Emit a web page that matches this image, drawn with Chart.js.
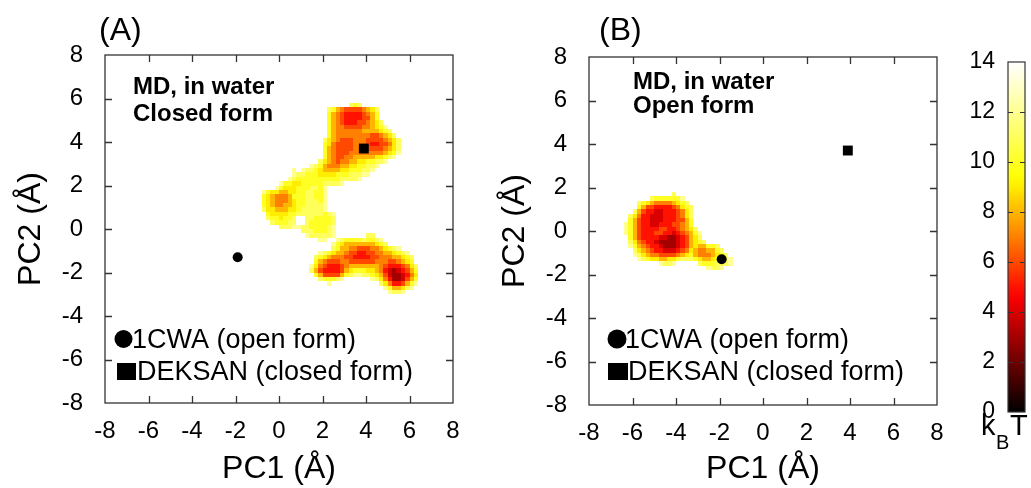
<!DOCTYPE html>
<html>
<head>
<meta charset="utf-8">
<script src="https://cdn.jsdelivr.net/npm/chart.js@4.4.1/dist/chart.umd.min.js"></script>
<style>
  html, body { margin: 0; padding: 0; background: #fff; }
  body { position: relative; width: 1031px; height: 488px; overflow: hidden; }
  canvas { position: absolute; top: 0; }
</style>
</head>
<body>
<canvas id="panelA" width="490" height="488" style="left:0"></canvas>
<canvas id="panelB" width="490" height="488" style="left:484px"></canvas>
<canvas id="cbar" width="71" height="488" style="left:960px"></canvas>
<script>
// axis ticks
const pcTicks = [-8, -6, -4, -2, 0, 2, 4, 6, 8];
const energyTicks = [0, 2, 4, 6, 8, 10, 12, 14];

// reference structures (PC1, PC2)
const openRef = { x: -1.9, y: -1.3 };    // 1CWA
const closedRef = { x: 3.9, y: 3.7 };    // DEKSAN

// free energy maps, 0.2 A bins, one char per bin (hex kBT, '.' = not sampled)
const binSize = 0.2;

// (A) closed form, upper basin: first bin x=-0.8, top row y=6.0
const closedUpperOrigin = [-0.8, 6.0];
const closedUpperRows = [
  '',
  '....................bab',
  '...............ba876666789b',
  '...............a8765555678a',
  '...............a8765555668a',
  '...............a87655566789b',
  '...............a87766667789ac',
  '...............a877777788889ab',
  '...............a87777777766789b',
  '..............b9876667776666789b',
  '..............a9766667776556679b',
  '..............a8766667776666789b',
  '..............a876667777777789ac',
  '..............a8766778888899abc',
  '.............b9876778899aabbc',
  '...........cba87778899aabbc',
  '.......c.cbba9888899aaabbc',
  '.......cbbaaa9999aaabbbcc',
  '......cbaaaaaaaaaabbbbc',
  '....caa99aaaaabbbbc',
  '...ca999aaabbac',
  'ca998899aabbaac',
  'a987778aaabbaac',
  'a9877789aabbbac',
  'a9877889aabbbbc',
  'b9988899abbbbbc',
  '.a9999aabbbbbbabc',
  '.baa9aab..bbaaaab',
  '..baaabb..baaaaab',
  '....bbbccbbaaaabc',
  '.........bbbaaabc',
  '..........cbbbbbc',
  '.............cc'
];

// (A) closed form, lower basin: first bin x=1.2, top row y=-0.2
const closedLowerOrigin = [1.2, -0.2];
const closedLowerRows = [
  '..............bb',
  '.......cbaaaabaabc',
  '......ca988888889ab',
  '......ba88776667789abc',
  '...cba988766556677889abc',
  '..ba9877766555566777889ab',
  '..a876667766666677766789a',
  '.c97655567888888876555679b',
  '.b865555689aaa99875434568a',
  '..a866668abccbba9864334579',
  '...baaabc......cb97533468a',
  '.....c...........b975568ac',
  '..................ca889bc',
  '...................cbbc'
];

// (B) open form: first bin x=-6.4, top row y=1.8
const openOrigin = [-6.4, 1.8];
const openRows = [
  '...........b',
  '......baaaaaac',
  '...ba98777789ab',
  '...a8665555679ab',
  '..b865544555679b',
  '.b9755444555679b',
  '.a8655444555668a',
  'ca8655445556678a',
  'ca86555566556789b',
  'ca86555665545678ac',
  '.a865555443345689b',
  '.b976554333345689ab',
  '.ca8765543334568988aab',
  '..b987655444567987788ab',
  '..cb98776666789a877789ab',
  '...cba998899abbba9889abbc',
  '........cbbc.....baaabbbc',
  '...................cbbc'
];

const FONT = "'Liberation Sans', Arial, Helvetica, sans-serif";
Chart.defaults.font.family = FONT;
Chart.defaults.color = '#000';

// gnuplot-style "hot" palette over 0..14 kBT
function hot(v) {
  const t = Math.max(0, Math.min(1, v / 14));
  const c = k => Math.round(255 * Math.max(0, Math.min(1, 3 * t - k)));
  return `rgb(${c(0)},${c(1)},${c(2)})`;
}

function drawMap(chart, origin, rows) {
  const { ctx, scales: { x, y } } = chart;
  rows.forEach((row, r) => {
    const yHi = origin[1] - r * binSize;
    const py0 = Math.round(y.getPixelForValue(yHi));
    const py1 = Math.round(y.getPixelForValue(yHi - binSize));
    for (let c = 0; c < row.length; c++) {
      const ch = row[c];
      if (ch === '.') continue;
      const xLo = origin[0] + c * binSize;
      const px0 = Math.round(x.getPixelForValue(xLo));
      const px1 = Math.round(x.getPixelForValue(xLo + binSize));
      ctx.fillStyle = hot(parseInt(ch, 16));
      ctx.fillRect(px0, py0, px1 - px0, py1 - py0);
    }
  });
}

function panelPlugin(cfg) {
  return {
    id: 'panel' + cfg.id,
    beforeDatasetsDraw(chart) {
      const { ctx, chartArea: a } = chart;
      ctx.save();
      ctx.beginPath();
      ctx.rect(a.left, a.top, a.right - a.left, a.bottom - a.top);
      ctx.clip();
      cfg.maps.forEach(m => drawMap(chart, m[0], m[1]));
      ctx.restore();
    },
    afterDatasetsDraw(chart) {
      const { ctx, chartArea: a, scales: { x, y } } = chart;
      ctx.save();
      ctx.strokeStyle = '#333';
      ctx.lineWidth = 1.3;
      ctx.strokeRect(a.left, a.top, a.right - a.left, a.bottom - a.top);
      ctx.beginPath();
      pcTicks.slice(1, -1).forEach(v => {
        const px = Math.round(x.getPixelForValue(v)) + 0.5;
        ctx.moveTo(px, a.bottom); ctx.lineTo(px, a.bottom - 7);
        ctx.moveTo(px, a.top); ctx.lineTo(px, a.top + 7);
        const py = Math.round(y.getPixelForValue(v)) + 0.5;
        ctx.moveTo(a.left, py); ctx.lineTo(a.left + 7, py);
        ctx.moveTo(a.right, py); ctx.lineTo(a.right - 7, py);
      });
      ctx.stroke();
      ctx.restore();
    },
    afterDraw(chart) {
      const { ctx } = chart;
      ctx.save();
      ctx.fillStyle = '#000';
      ctx.textBaseline = 'alphabetic';
      ctx.textAlign = 'left';
      ctx.font = '32px ' + FONT;
      ctx.fillText(cfg.label, cfg.labelPos[0], cfg.labelPos[1]);
      ctx.font = 'bold 24px ' + FONT;
      cfg.note.forEach((t, i) => ctx.fillText(t, cfg.notePos[0], cfg.notePos[1][i]));
      ctx.font = '27px ' + FONT;
      const L = cfg.legend;
      ctx.beginPath();
      ctx.arc(L.dot[0], L.dot[1], L.dot[2], 0, Math.PI * 2);
      ctx.fill();
      ctx.fillText('1CWA (open form)', L.text1[0], L.text1[1]);
      ctx.fillRect(L.sq[0], L.sq[1], L.sq[2], L.sq[3]);
      ctx.fillText('DEKSAN (closed form)', L.text2[0], L.text2[1]);
      ctx.restore();
    }
  };
}

function panelChart(cfg) {
  const tickFont = { size: 24 };
  const titleFont = { size: 32 };
  return new Chart(document.getElementById(cfg.id), {
    type: 'scatter',
    data: {
      datasets: [
        { data: [openRef], pointStyle: 'circle', pointRadius: 5, pointHoverRadius: 5, backgroundColor: '#000', borderWidth: 0 },
        { data: [closedRef], pointStyle: 'rect', pointRadius: 7, pointHoverRadius: 7, backgroundColor: '#000', borderWidth: 0 }
      ]
    },
    options: {
      responsive: false,
      animation: false,
      devicePixelRatio: 1,
      events: [],
      layout: { padding: { left: 0, top: cfg.top, right: 37, bottom: 0 } },
      scales: {
        x: {
          type: 'linear', min: -8, max: 8,
          afterBuildTicks: s => { s.ticks = pcTicks.map(v => ({ value: v })); },
          ticks: { font: tickFont, padding: 14, maxRotation: 0, autoSkip: false },
          grid: { display: false, drawTicks: false, tickLength: 0 },
          border: { display: false },
          title: { display: true, text: 'PC1 (Å)', font: titleFont, padding: { top: 0, bottom: 0 } },
          afterFit: s => { s.height = 488 - cfg.top - 348; }
        },
        y: {
          type: 'linear', min: -8, max: 8,
          afterBuildTicks: s => { s.ticks = pcTicks.map(v => ({ value: v })); },
          ticks: { font: tickFont, padding: 22, autoSkip: false },
          grid: { display: false, drawTicks: false, tickLength: 0 },
          border: { display: false },
          title: { display: true, text: 'PC2 (Å)', font: titleFont, padding: { top: 12, bottom: 0 } },
          afterFit: s => { s.width = 105; }
        }
      },
      plugins: { legend: { display: false }, tooltip: { enabled: false } }
    },
    plugins: [panelPlugin(cfg)]
  });
}

panelChart({
  id: 'panelA', top: 55, label: '(A)', labelPos: [99, 40],
  note: ['MD, in water', 'Closed form'], notePos: [133, [94, 121]],
  legend: { dot: [123.5, 339, 9], text1: [132, 348], sq: [117, 363, 19, 17], text2: [137, 380] },
  maps: [[closedUpperOrigin, closedUpperRows], [closedLowerOrigin, closedLowerRows]]
});

panelChart({
  id: 'panelB', top: 57, label: '(B)', labelPos: [115, 40],
  note: ['MD, in water', 'Open form'], notePos: [149, [89, 113]],
  legend: { dot: [133, 339, 9.5], text1: [141, 348], sq: [124, 363, 20, 17], text2: [144, 380] },
  maps: [[openOrigin, openRows]]
});

// colour box
new Chart(document.getElementById('cbar'), {
  type: 'bar',
  data: {
    labels: ['kBT'],
    datasets: [{
      data: [[energyTicks[0], energyTicks[energyTicks.length - 1]]],
      barPercentage: 1, categoryPercentage: 1, borderWidth: 0,
      backgroundColor: c => {
        const { chart } = c;
        if (!chart.chartArea) return '#fff';
        const ys = chart.scales.y;
        const g = chart.ctx.createLinearGradient(0, ys.getPixelForValue(0), 0, ys.getPixelForValue(14));
        for (let v = 0; v <= 14; v += 0.5) g.addColorStop(v / 14, hot(v));
        return g;
      }
    }]
  },
  options: {
    responsive: false,
    animation: false,
    devicePixelRatio: 1,
    events: [],
    layout: { padding: { left: 0, top: 62, right: 6, bottom: 76 } },
    scales: {
      x: { display: false },
      y: {
        min: 0, max: 14,
        afterBuildTicks: s => { s.ticks = energyTicks.map(v => ({ value: v })); },
        ticks: { font: { size: 23 }, padding: 13, autoSkip: false },
        grid: { display: false, drawTicks: false, tickLength: 0 },
        border: { display: false },
        afterFit: s => { s.width = 48; }
      }
    },
    plugins: { legend: { display: false }, tooltip: { enabled: false } }
  },
  plugins: [{
    id: 'cbox',
    afterDatasetsDraw(chart) {
      const { ctx, chartArea: a, scales: { y } } = chart;
      ctx.save();
      ctx.strokeStyle = '#333';
      ctx.lineWidth = 1.2;
      ctx.strokeRect(a.left, a.top, a.right - a.left, a.bottom - a.top);
      ctx.beginPath();
      energyTicks.slice(1, -1).forEach(v => {
        const py = Math.round(y.getPixelForValue(v)) + 0.5;
        ctx.moveTo(a.left, py); ctx.lineTo(a.left + 5, py);
        ctx.moveTo(a.right, py); ctx.lineTo(a.right - 5, py);
      });
      ctx.stroke();
      ctx.fillStyle = '#000';
      ctx.font = '29px ' + FONT;
      ctx.fillText('k', 21, 435);
      ctx.font = '20px ' + FONT;
      ctx.fillText('B', 36, 449);
      ctx.font = '29px ' + FONT;
      ctx.fillText('T', 50, 435);
      ctx.restore();
    }
  }]
});
</script>
</body>
</html>
